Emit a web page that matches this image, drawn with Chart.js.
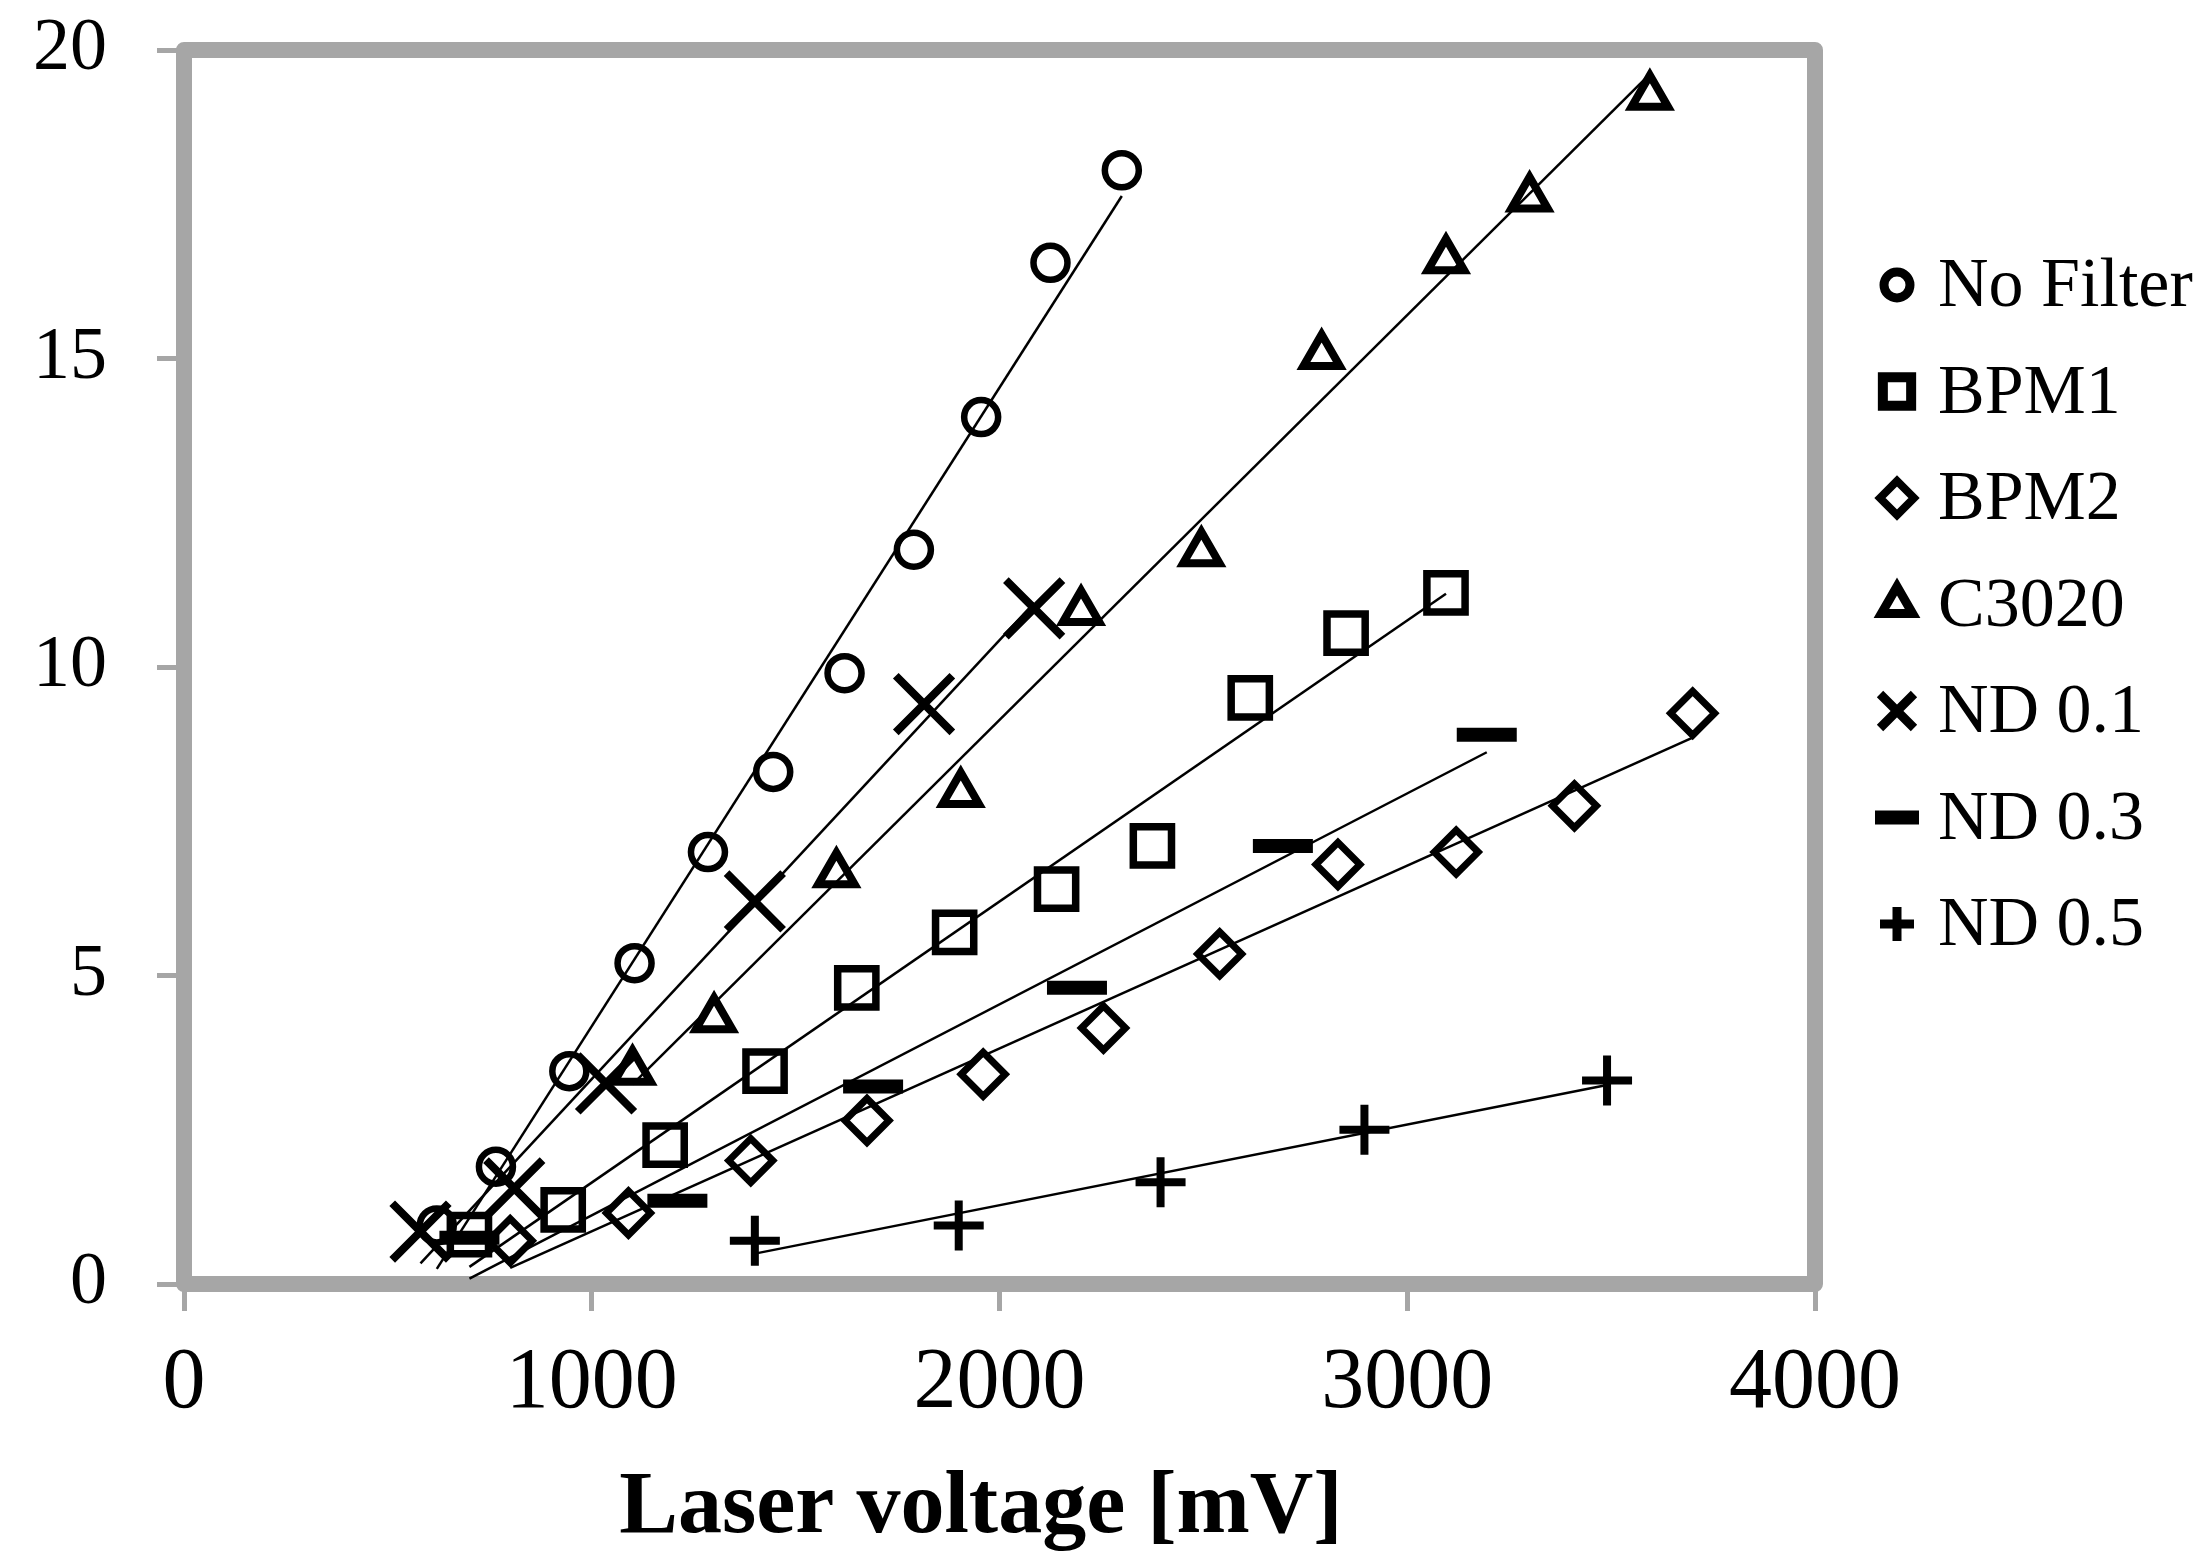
<!DOCTYPE html>
<html lang="en">
<head>
<meta charset="UTF-8">
<title>Laser voltage</title>
<script src="https://cdn.jsdelivr.net/npm/chart.js@4"></script>
<style>
  html, body { margin: 0; padding: 0; background: #fff; }
  #wrap { width: 2212px; height: 1554px; }
</style>
</head>
<body>
<div id="wrap"><canvas id="grafico" width="2212" height="1554"></canvas></div>
<script>
// ticks
const xTicks = [0, 1000, 2000, 3000, 4000]
const yTicks = [0, 5, 10, 15, 20]
const xTitle = 'Laser voltage [mV]'

const seriesNames = ['No Filter', 'BPM1', 'BPM2', 'C3020', 'ND 0.1', 'ND 0.3', 'ND 0.5']

// values (x = laser voltage in mV)
const noFilterX = [620, 765, 945, 1105, 1285, 1445, 1620, 1790, 1955, 2125, 2300]
const noFilterY = [0.95, 1.9, 3.45, 5.2, 7.0, 8.3, 9.9, 11.9, 14.05, 16.55, 18.05]

const bpm1X = [700, 930, 1180, 1425, 1650, 1890, 2140, 2375, 2615, 2850, 3095]
const bpm1Y = [0.8, 1.2, 2.25, 3.45, 4.8, 5.7, 6.4, 7.1, 9.5, 10.55, 11.2]

const bpm2X = [800, 1090, 1390, 1675, 1960, 2255, 2540, 2830, 3120, 3410, 3700]
const bpm2Y = [0.7, 1.15, 2.0, 2.65, 3.4, 4.15, 5.35, 6.8, 7.0, 7.75, 9.25]

const c3020X = [1100, 1300, 1600, 1905, 2200, 2495, 2790, 3095, 3300, 3595]
const c3020Y = [3.45, 4.3, 6.65, 7.95, 10.9, 11.85, 15.05, 16.6, 17.6, 19.25]

const nd01X = [580, 810, 1035, 1400, 1815, 2085]
const nd01Y = [0.85, 1.55, 3.25, 6.2, 9.4, 10.95]

const nd03X = [700, 1210, 1690, 2190, 2695, 3195]
const nd03Y = [0.75, 1.35, 3.2, 4.8, 7.1, 8.9]

const nd05X = [1400, 1900, 2395, 2895, 3490]
const nd05Y = [0.7, 0.95, 1.65, 2.5, 3.3]

const allX = [noFilterX, bpm1X, bpm2X, c3020X, nd01X, nd03X, nd05X]
const allY = [noFilterY, bpm1Y, bpm2Y, c3020Y, nd01Y, nd03Y, nd05Y]

// marker look, chart and legend
const estilos = [
  { pointStyle: 'circle',   radius: 17, borderWidth: 6.5, legR: 13, legW: 9 },
  { pointStyle: 'rect',     radius: 27, borderWidth: 7.5, legR: 20, legW: 10 },
  { pointStyle: 'rectRot',  radius: 22, borderWidth: 7,   legR: 17, legW: 8 },
  { pointStyle: 'triangle', radius: 21, borderWidth: 8,   legR: 18, legW: 9 },
  { pointStyle: 'crossRot', radius: 40, borderWidth: 8,   legR: 24, legW: 9 },
  { pointStyle: 'line',     radius: 30, borderWidth: 14,  legR: 22, legW: 14 },
  { pointStyle: 'cross',    radius: 25, borderWidth: 8,   legR: 17, legW: 9 }
]

const fonte = "'Liberation Serif', 'Times New Roman', serif"

// least squares line, drawn from min x to max x (like an Excel trendline)
function tendencia(xs, ys) {
  let n = xs.length, sx = 0, sy = 0, sxx = 0, sxy = 0
  for (let i = 0; i < n; i++) {
    sx += xs[i]; sy += ys[i]; sxx += xs[i] * xs[i]; sxy += xs[i] * ys[i]
  }
  const b = (n * sxy - sx * sy) / (n * sxx - sx * sx)
  const a = (sy - b * sx) / n
  const x0 = Math.min(...xs), x1 = Math.max(...xs)
  return [{ x: x0, y: a + b * x0 }, { x: x1, y: a + b * x1 }]
}

const datasets = []
for (let i = 0; i < seriesNames.length; i++) {
  datasets.push({
    type: 'line',
    label: seriesNames[i] + ' trend',
    data: tendencia(allX[i], allY[i]),
    borderColor: '#000',
    borderWidth: 2.5,
    pointRadius: 0,
    fill: false,
    clip: false
  })
}
for (let i = 0; i < seriesNames.length; i++) {
  const e = estilos[i]
  datasets.push({
    label: seriesNames[i],
    data: allX[i].map((x, k) => ({ x: x, y: allY[i][k] })),
    showLine: false,
    pointStyle: e.pointStyle,
    pointRadius: e.radius,
    pointHoverRadius: e.radius,
    pointBorderWidth: e.borderWidth,
    pointBorderColor: '#000',
    pointBackgroundColor: 'rgba(0,0,0,0)',
    clip: false
  })
}

const moldura = {
  id: 'moldura',
  beforeDatasetsDraw(chart) {
    const { ctx, chartArea: a } = chart
    ctx.save()
    ctx.strokeStyle = '#a6a6a6'
    ctx.lineWidth = 16
    ctx.lineJoin = 'round'
    ctx.strokeRect(a.left, a.top, a.right - a.left, a.bottom - a.top)
    ctx.restore()
  }
}

// legend on the right + axis title (sits a bit left of the plot centre)
const legenda = {
  id: 'legenda',
  afterDraw(chart) {
    const ctx = chart.ctx
    ctx.save()
    ctx.font = '70px ' + fonte
    ctx.textBaseline = 'middle'
    ctx.textAlign = 'left'
    for (let i = 0; i < seriesNames.length; i++) {
      const y = 285 + i * 106.5
      const e = estilos[i]
      ctx.strokeStyle = '#000'
      ctx.fillStyle = 'rgba(0,0,0,0)'
      ctx.lineWidth = e.legW
      Chart.helpers.drawPoint(ctx, { pointStyle: e.pointStyle, radius: e.legR, borderWidth: e.legW, rotation: 0 }, 1897, y)
      ctx.fillStyle = '#000'
      ctx.fillText(seriesNames[i], 1938, y + 3)
    }
    ctx.font = 'bold 88px ' + fonte
    ctx.textAlign = 'center'
    ctx.fillText(xTitle, 981, 1509)
    ctx.restore()
  }
}

new Chart(document.getElementById('grafico'), {
  type: 'scatter',
  data: { datasets: datasets },
  options: {
    responsive: false,
    devicePixelRatio: 1,
    animation: false,
    layout: { padding: { top: 50, right: 397, left: 0, bottom: 0 } },
    plugins: { legend: { display: false }, tooltip: { enabled: false } },
    scales: {
      x: {
        type: 'linear',
        min: xTicks[0],
        max: xTicks[xTicks.length - 1],
        afterBuildTicks: s => { s.ticks = xTicks.map(v => ({ value: v })) },
        border: { display: false },
        grid: { drawOnChartArea: false, drawTicks: true, tickLength: 27, color: '#a6a6a6', lineWidth: 5 },
        ticks: { color: '#000', font: { family: fonte, size: 86 }, padding: 22, maxRotation: 0, callback: v => String(v) },
        afterFit: s => { s.height = 270; s.paddingLeft = 0; s.paddingRight = 0 }
      },
      y: {
        type: 'linear',
        min: yTicks[0],
        max: yTicks[yTicks.length - 1],
        afterBuildTicks: s => { s.ticks = yTicks.map(v => ({ value: v })) },
        border: { display: false },
        grid: { drawOnChartArea: false, drawTicks: true, tickLength: 27, color: '#a6a6a6', lineWidth: 5 },
        ticks: { color: '#000', font: { family: fonte, size: 74 }, padding: 50, callback: v => String(v) },
        afterFit: s => { s.width = 184; s.paddingTop = 0; s.paddingBottom = 0 }
      }
    }
  },
  plugins: [moldura, legenda]
})
</script>
</body>
</html>
